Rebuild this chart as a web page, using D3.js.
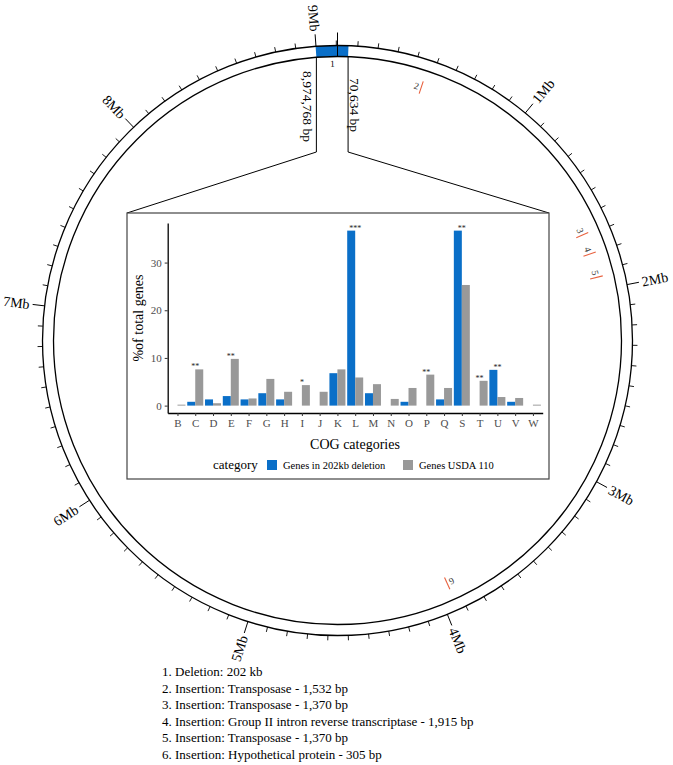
<!DOCTYPE html>
<html lang="en">
<head>
<meta charset="UTF-8">
<title>Genome map and COG categories</title>
<script src="https://d3js.org/d3.v7.min.js"></script>
<style>
  body { margin: 0; background: #fff; }
  svg text { font-family: "Liberation Serif", "Times New Roman", serif; }
</style>
</head>
<body>
<script>
// genome ring
var genomeLength = 9105828;
var majorTicksMb = [1, 2, 3, 4, 5, 6, 7, 8, 9];
var deletionStart = 8998000;   // block as drawn
var deletionEnd = 54000;
var deletionLabels = ["8,974,768 bp", "70,634 bp"];
var insertionIds = ["2", "3", "4", "5", "6"];
var insertionPos = [463000, 1687000, 1798000, 1930000, 3938000];

// COG bar chart
var categories = ["B","C","D","E","F","G","H","I","J","K","L","M","N","O","P","Q","S","T","U","V","W"];
var deletionPct = [0, 0.8, 1.3, 2.0, 1.3, 2.6, 1.3, 0, 0, 6.8, 36.7, 2.6, 0, 0.8, 0, 1.3, 36.7, 0, 7.5, 0.8, 0];
var usdaPct     = [0.2, 7.6, 0.5, 9.8, 1.5, 5.6, 2.9, 4.3, 2.9, 7.6, 5.9, 4.5, 1.4, 3.7, 6.5, 3.7, 25.3, 5.2, 1.8, 1.6, 0.2];
var signif      = ["", "**", "", "**", "", "", "", "*", "", "", "***", "", "", "", "**", "", "**", "**", "**", "", ""];
var seriesNames = ["Genes in 202kb deletion", "Genes USDA 110"];
var yTicks = [0, 10, 20, 30];

var notes = [
  "1. Deletion: 202 kb",
  "2. Insertion: Transposase - 1,532 bp",
  "3. Insertion: Transposase - 1,370 bp",
  "4. Insertion: Group II intron reverse transcriptase - 1,915 bp",
  "5. Insertion: Transposase - 1,370 bp",
  "6. Insertion: Hypothetical protein - 305 bp"
];

var width = 673, height = 765;
var cx = 337.5, cy = 340.5, rOut = 295, rIn = 284;
var blue = "#0a6fc8", grey = "#999999", red = "#e8613f";

var svg = d3.select("body").append("svg")
  .attr("width", width).attr("height", height);

var ang = d3.scaleLinear().domain([0, genomeLength]).range([0, 2 * Math.PI]);
function px(a, r) { return cx + r * Math.sin(a); }
function py(a, r) { return cy - r * Math.cos(a); }
function deg(a) { return a * 180 / Math.PI; }

var ring = svg.append("g");

// deletion block
ring.append("path")
  .attr("transform", "translate(" + cx + "," + cy + ")")
  .attr("d", d3.arc().innerRadius(rIn).outerRadius(rOut)
    .startAngle(ang(deletionStart) - 2 * Math.PI).endAngle(ang(deletionEnd))())
  .attr("fill", blue);

ring.selectAll("circle.ring").data([rOut, rIn]).enter().append("circle")
  .attr("cx", cx).attr("cy", cy).attr("r", function(d) { return d; })
  .attr("fill", "none").attr("stroke", "#000").attr("stroke-width", 1.3);

// ticks
var minor = d3.range(100000, genomeLength, 100000).filter(function(d) { return d % 1000000 !== 0; });
ring.selectAll("line.minor").data(minor).enter().append("line")
  .attr("x1", function(d) { return px(ang(d), rOut); })
  .attr("y1", function(d) { return py(ang(d), rOut); })
  .attr("x2", function(d) { return px(ang(d), rOut + 5); })
  .attr("y2", function(d) { return py(ang(d), rOut + 5); })
  .attr("stroke", "#000").attr("stroke-width", 0.9);

ring.selectAll("line.major").data(majorTicksMb).enter().append("line")
  .attr("x1", function(d) { return px(ang(d * 1e6), rOut); })
  .attr("y1", function(d) { return py(ang(d * 1e6), rOut); })
  .attr("x2", function(d) { return px(ang(d * 1e6), rOut + 12); })
  .attr("y2", function(d) { return py(ang(d * 1e6), rOut + 12); })
  .attr("stroke", "#000").attr("stroke-width", 1);

// origin
ring.append("line")
  .attr("x1", px(0, rIn)).attr("y1", py(0, rIn))
  .attr("x2", px(0, rOut + 13)).attr("y2", py(0, rOut + 13))
  .attr("stroke", "#000").attr("stroke-width", 1);

ring.selectAll("text.mb").data(majorTicksMb).enter().append("text")
  .attr("transform", function(d) {
    var a = deg(ang(d * 1e6));
    return "translate(" + cx + "," + cy + ") rotate(" + a + ") translate(0," + (-(rOut + 15)) + ") rotate(" + (a < 180 ? -90 : 90) + ")";
  })
  .attr("text-anchor", function(d) { return deg(ang(d * 1e6)) < 180 ? "start" : "end"; })
  .attr("dy", "0.35em")
  .attr("font-size", 14)
  .text(function(d) { return d + "Mb"; });

// deletion label "1"
var midDel = (ang(deletionStart) - 2 * Math.PI + ang(deletionEnd)) / 2;
ring.append("text")
  .attr("transform", "translate(" + cx + "," + cy + ") rotate(" + deg(midDel) + ") translate(0," + (-(rIn - 7)) + ")")
  .attr("text-anchor", "middle").attr("dy", "0.35em")
  .attr("font-size", 9).text("1");

// insertions
var ins = ring.selectAll("g.ins").data(insertionPos).enter().append("g")
  .attr("transform", function(d) { return "translate(" + cx + "," + cy + ") rotate(" + deg(ang(d)) + ")"; });
ins.append("line")
  .attr("x1", 0).attr("y1", -260).attr("x2", 0).attr("y2", -273)
  .attr("stroke", red).attr("stroke-width", 1.1);
ins.append("text")
  .attr("x", -2.5).attr("y", -266.5)
  .attr("text-anchor", "end").attr("dy", "0.35em")
  .attr("font-size", 9.5).attr("fill", "#333")
  .text(function(d, i) { return insertionIds[i]; });

// connector lines to inset
var boxX = 127, boxY = 213, boxW = 422, boxH = 266;
var aS = ang(deletionStart), aE = ang(deletionEnd);
var xL = px(aS, rIn), xR = px(aE, rIn);
svg.append("path")
  .attr("d", "M" + xL + "," + py(aS, rIn) + "V152L" + boxX + "," + boxY)
  .attr("fill", "none").attr("stroke", "#000").attr("stroke-width", 1);
svg.append("path")
  .attr("d", "M" + xR + "," + py(aE, rIn) + "V152L" + (boxX + boxW) + "," + boxY)
  .attr("fill", "none").attr("stroke", "#000").attr("stroke-width", 1);

svg.append("text")
  .attr("transform", "translate(" + (xL - 13) + ",71) rotate(90)")
  .attr("font-size", 13.5).text(deletionLabels[0]);
svg.append("text")
  .attr("transform", "translate(" + (xR + 2) + ",78) rotate(90)")
  .attr("font-size", 13.5).text(deletionLabels[1]);

// inset box
svg.append("rect")
  .attr("x", boxX).attr("y", boxY).attr("width", boxW).attr("height", boxH)
  .attr("fill", "#fff").attr("stroke", "#444").attr("stroke-width", 1.2);

var x = d3.scalePoint().domain(categories).range([167.7, 542.7]).padding(0.55);
var y = d3.scaleLinear().domain([-1.55, 38.3]).range([413, 223]);
var bw = x.step() * 0.45;

var chart = svg.append("g");

chart.selectAll("rect.del").data(deletionPct).enter().append("rect")
  .attr("x", function(d, i) { return x(categories[i]) - bw; })
  .attr("y", function(d) { return y(d); })
  .attr("width", bw)
  .attr("height", function(d) { return y(0) - y(d); })
  .attr("fill", blue);

chart.selectAll("rect.usda").data(usdaPct).enter().append("rect")
  .attr("x", function(d, i) { return x(categories[i]); })
  .attr("y", function(d) { return y(d); })
  .attr("width", bw)
  .attr("height", function(d) { return Math.max(0.8, y(0) - y(d)); })
  .attr("fill", grey);

chart.selectAll("text.sig").data(signif).enter().append("text")
  .attr("x", function(d, i) { return x(categories[i]); })
  .attr("y", function(d, i) { return y(Math.max(deletionPct[i], usdaPct[i])); })
  .attr("text-anchor", "middle")
  .attr("font-size", 8).attr("fill", "#222")
  .text(function(d) { return d; });

var yAxis = chart.append("g").attr("transform", "translate(167.7,0)")
  .call(d3.axisLeft(y).tickValues(yTicks).tickSize(3).tickSizeOuter(0).tickPadding(3));
var xAxis = chart.append("g").attr("transform", "translate(0,413)")
  .call(d3.axisBottom(x).tickSize(3).tickSizeOuter(0).tickPadding(3));
[yAxis, xAxis].forEach(function(g) {
  g.select(".domain").attr("stroke", "#000").attr("stroke-width", 1.3);
  g.selectAll(".tick line").attr("stroke", "#333");
  g.selectAll(".tick text").attr("fill", "#4d4d4d").attr("font-size", 11)
    .attr("font-family", "Liberation Serif, serif");
});

chart.append("text")
  .attr("transform", "translate(143,318) rotate(-90)")
  .attr("text-anchor", "middle").attr("font-size", 14)
  .text("%of total genes");
chart.append("text")
  .attr("x", 355).attr("y", 449)
  .attr("text-anchor", "middle").attr("font-size", 14)
  .text("COG categories");

// legend
var legend = chart.append("g");
legend.append("text").attr("x", 213).attr("y", 469).attr("font-size", 13).text("category");
var legX = [267, 403];
legend.selectAll("rect").data(seriesNames).enter().append("rect")
  .attr("x", function(d, i) { return legX[i]; }).attr("y", 460)
  .attr("width", 10).attr("height", 10)
  .attr("fill", function(d, i) { return i === 0 ? blue : grey; });
legend.selectAll("text.lab").data(seriesNames).enter().append("text")
  .attr("x", function(d, i) { return legX[i] + 16; }).attr("y", 469)
  .attr("font-size", 10.5).text(function(d) { return d; });

// notes
svg.append("g").selectAll("text").data(notes).enter().append("text")
  .attr("x", 162).attr("y", function(d, i) { return 676 + i * 16.6; })
  .attr("font-size", 13).text(function(d) { return d; });
</script>
</body>
</html>
